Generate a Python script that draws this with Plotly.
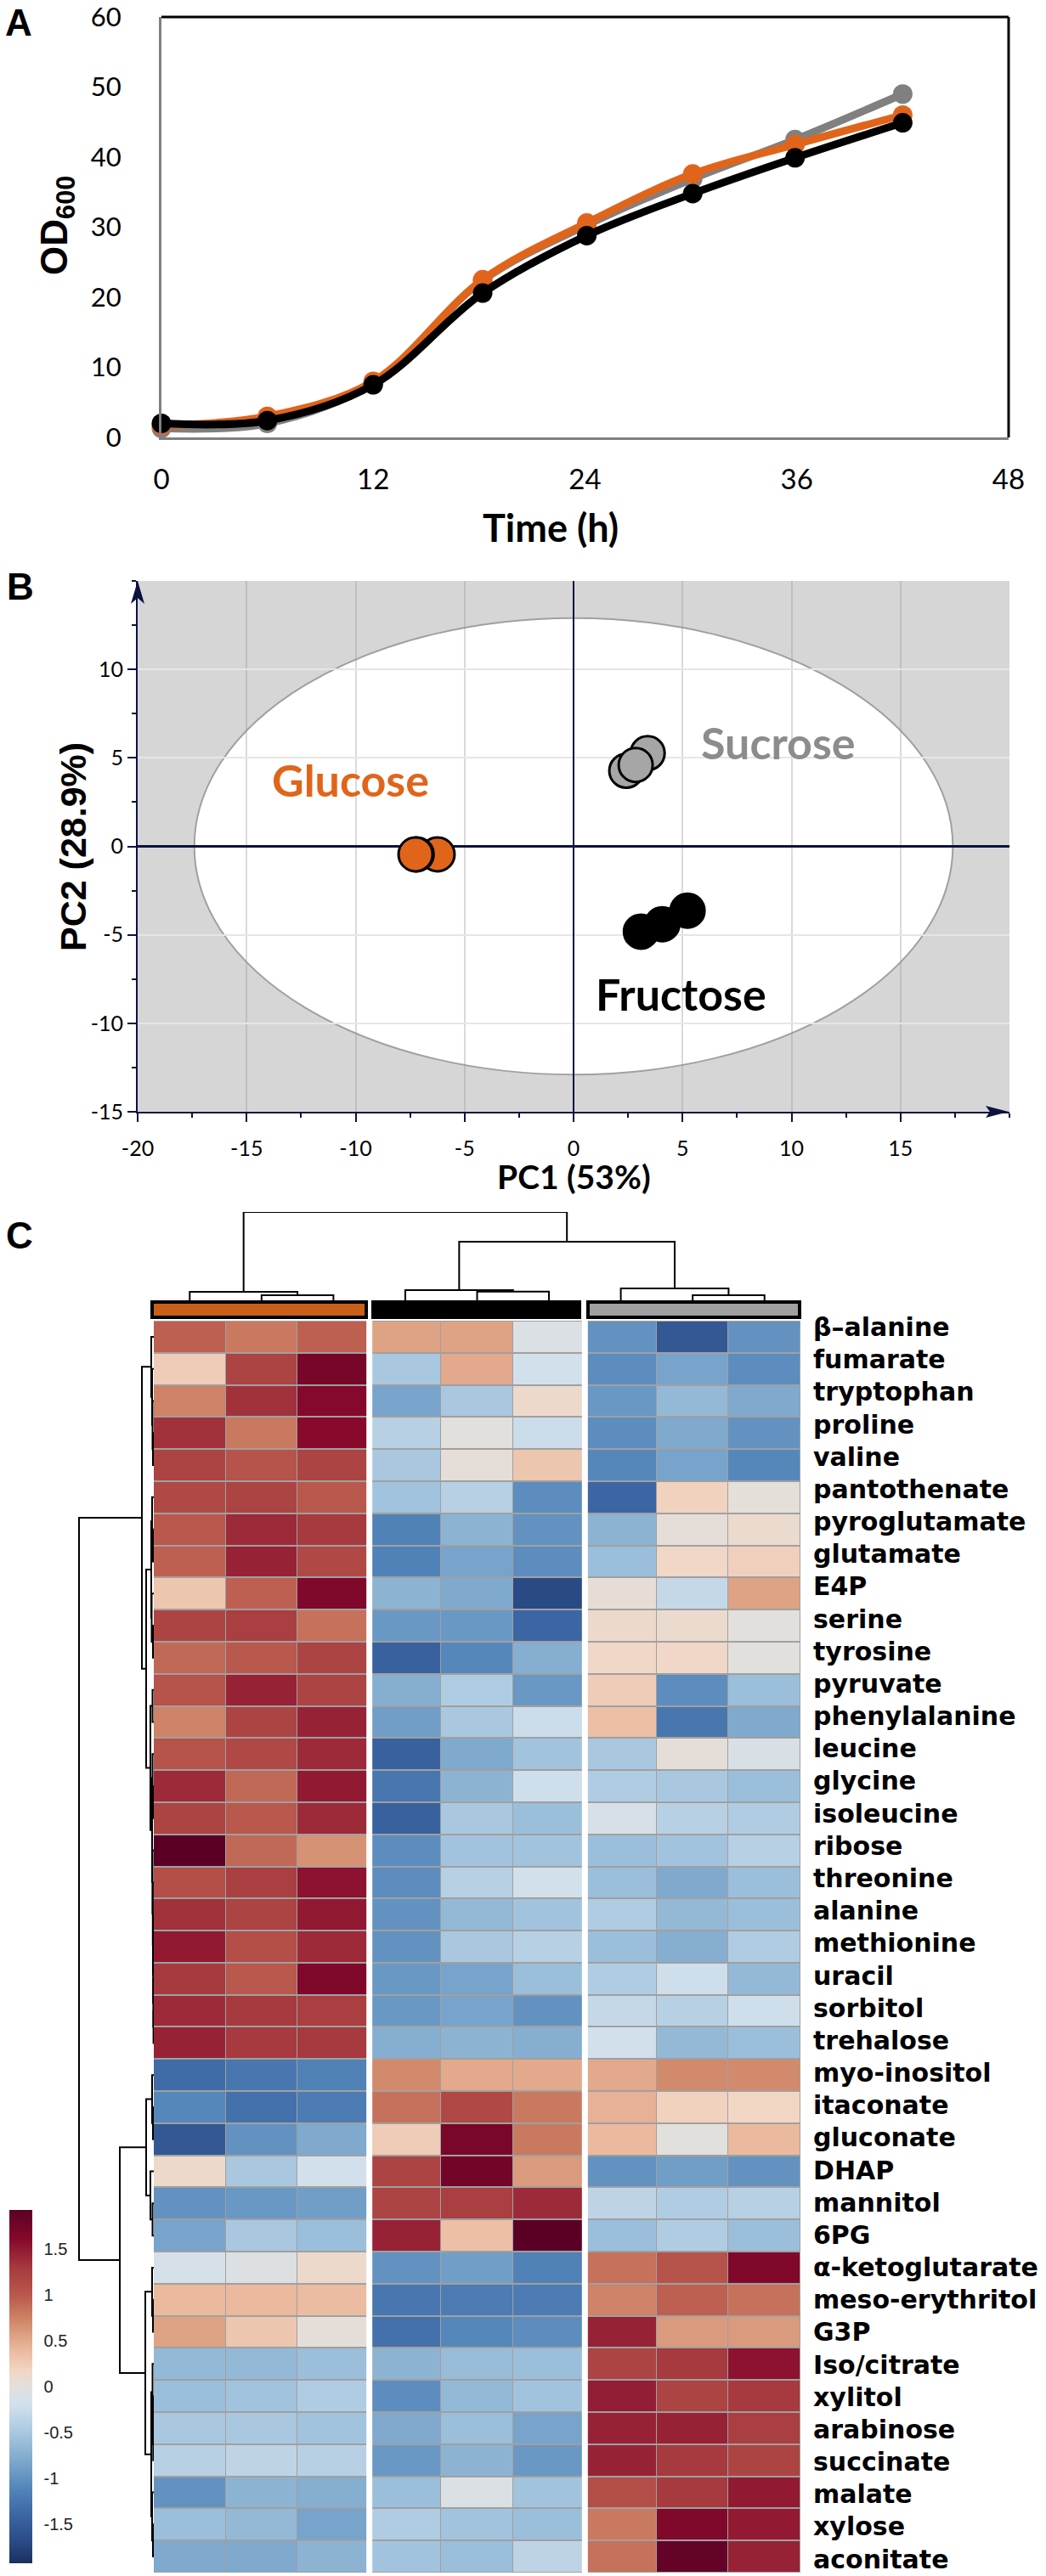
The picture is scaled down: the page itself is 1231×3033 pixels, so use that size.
import plotly.graph_objects as go

W, H = 1231, 3033
FONT = "Lato"
ARIAL = "Liberation Sans"
ORANGE, GREY = "#e0651b", "#808080"
NAVY = "#0c1240"

# panel A, growth curves
TIME = [0, 6, 12, 18.2, 24.1, 30.1, 35.9, 42]
OD_SUCROSE = [1.3, 2.0, 7.8, 22.4, 30.3, 36.9, 42.5, 49.0]
OD_GLUCOSE = [1.7, 3.0, 8.0, 22.5, 30.6, 37.6, 41.8, 46.0]
OD_FRUCTOSE = [2.0, 2.4, 7.5, 20.6, 28.8, 34.8, 39.9, 44.9]

# panel B, PCA scores
PC1_GLUCOSE = [-6.24, -7.2, -7.25]
PC2_GLUCOSE = [-0.45, -0.45, -0.45]
PC1_SUCROSE = [3.4, 2.42, 2.85]
PC2_SUCROSE = [5.27, 4.27, 4.6]
PC1_FRUCTOSE = [5.23, 4.07, 3.09]
PC2_FRUCTOSE = [-3.63, -4.4, -4.82]
ELLIPSE_X, ELLIPSE_Y = 17.4, 12.9

# panel C, heatmap
METABOLITES = ["β–alanine", "fumarate", "tryptophan", "proline", "valine", "pantothenate",
               "pyroglutamate", "glutamate", "E4P", "serine", "tyrosine", "pyruvate",
               "phenylalanine", "leucine", "glycine", "isoleucine", "ribose", "threonine",
               "alanine", "methionine", "uracil", "sorbitol", "trehalose", "myo-inositol",
               "itaconate", "gluconate", "DHAP", "mannitol", "6PG", "α-ketoglutarate",
               "meso-erythritol", "G3P", "Iso/citrate", "xylitol", "arabinose", "succinate",
               "malate", "xylose", "aconitate"]
Z_GLUCOSE = [[.95, .8, .95], [.25, 1.2, 1.72], [.75, 1.35, 1.62], [1.35, .8, 1.6], [1.2, 1.05, 1.2],
             [1.15, 1.2, 1.0], [1.0, 1.4, 1.3], [.95, 1.45, 1.15], [.3, .95, 1.65], [1.2, 1.25, .85],
             [.9, 1.0, 1.2], [1.05, 1.45, 1.2], [.75, 1.2, 1.45], [1.05, 1.15, 1.4], [1.4, .9, 1.5],
             [1.2, 1.0, 1.4], [1.93, .9, .65], [1.1, 1.25, 1.55], [1.35, 1.2, 1.5], [1.5, 1.1, 1.4],
             [1.3, 1.0, 1.65], [1.4, 1.3, 1.25], [1.45, 1.3, 1.3], [-1.35, -1.25, -1.15],
             [-1.1, -1.3, -1.2], [-1.55, -1.0, -.8], [.12, -.5, -.2], [-1.0, -.95, -.9],
             [-.85, -.5, -.6], [-.15, -.08, .12], [.4, .4, .38], [.55, .3, .03], [-.65, -.65, -.6],
             [-.6, -.55, -.45], [-.5, -.5, -.55], [-.4, -.35, -.4], [-1.0, -.7, -.75],
             [-.6, -.65, -.85], [-.8, -.8, -.7]]
Z_FRUCTOSE = [[.55, .55, -.1], [-.5, .5, -.2], [-.85, -.5, .12], [-.4, 0, -.25], [-.5, .03, .3],
              [-.55, -.4, -1.05], [-1.15, -.7, -1.0], [-1.15, -.85, -1.05], [-.7, -.8, -1.7],
              [-.95, -.95, -1.4], [-1.45, -1.1, -.75], [-.75, -.45, -.95], [-.9, -.5, -.25],
              [-1.45, -.8, -.55], [-1.25, -.7, -.22], [-1.45, -.5, -.6], [-1.05, -.55, -.55],
              [-1.05, -.4, -.2], [-1.0, -.65, -.55], [-1.0, -.5, -.4], [-.95, -.85, -.6],
              [-.95, -.85, -1.0], [-.75, -.7, -.75], [.7, .5, .5], [.85, 1.15, .8], [.25, 1.7, .8],
              [1.2, 1.75, .6], [1.2, 1.25, 1.4], [1.45, .35, 1.93], [-1.0, -.9, -1.15],
              [-1.25, -1.2, -1.2], [-1.3, -1.1, -1.05], [-.7, -.62, -.6], [-1.05, -.65, -.55],
              [-.8, -.6, -.85], [-.95, -.7, -.95], [-.6, -.1, -.55], [-.45, -.55, -.6],
              [-.55, -.6, -.35]]
Z_SUCROSE = [[-1.0, -1.55, -1.0], [-1.05, -.85, -1.05], [-.95, -.65, -.8], [-1.05, -.8, -1.0],
             [-1.1, -.85, -1.1], [-1.4, .2, .02], [-.7, .03, .1], [-.6, .15, .22], [.05, -.3, .55],
             [.12, .1, 0], [.15, .15, 0], [.25, -1.05, -.6], [.35, -1.25, -.8], [-.5, .03, -.12],
             [-.45, -.5, -.6], [-.15, -.4, -.45], [-.6, -.55, -.4], [-.6, -.8, -.6], [-.45, -.65, -.6],
             [-.6, -.75, -.45], [-.45, -.22, -.65], [-.3, -.4, -.22], [-.2, -.65, -.6], [.5, .7, .7],
             [.45, .2, .17], [.4, 0, .4], [-1.0, -.9, -1.0], [-.35, -.45, -.4], [-.6, -.45, -.6],
             [.85, 1.05, 1.65], [.75, .95, .85], [1.45, .6, .6], [1.2, 1.3, 1.55], [1.48, 1.2, 1.3],
             [1.45, 1.45, 1.25], [1.45, 1.3, 1.2], [1.1, 1.3, 1.5], [.8, 1.65, 1.5], [.85, 1.85, 1.45]]
Z_MIN, Z_MAX = -1.93, 1.93
COLOR_VALUES = [-1.93, -1.7, -1.4, -1.1, -.8, -.5, -.2, 0, .17, .4, .7, 1.0, 1.3, 1.6, 1.93]
COLORS = ["#1c2f5e", "#2a4a85", "#3b66a3", "#5587bb", "#7fa9cd", "#a9c8e0", "#d2e0ec", "#e2e0dc",
          "#f2d6c4", "#eab99e", "#d28a6c", "#b9584c", "#a63a3f", "#870a2c", "#5a0025"]
CBAR_TICKS = [1.5, 1, 0.5, 0, -0.5, -1, -1.5]
# dendrograms as [height, left, right], a leaf is a column or row number
COL_TREE = [104, [10, 0, [6, 1, 2]], [69, [12, 3, [10.3, 4, 5]], [14, 6, [6, 7, 8]]]]
ROW_TREE = [88,
            [14, [3, 0, [2, 1, [1.5, 2, [1, 3, 4]]]],
             [9, [3, [2, 5, [1, 6, 7]], [2.5, 8, [1, 9, 10]]],
              [4, [1.5, 11, 12],
               [2, [1.5, 13, [1, 14, 15]],
                [1.5, 16, [1.2, 17, [1, 18, [.8, 19, [.6, 20, [.4, 21, 22]]]]]]]]]],
            [40, [9, [2, 23, [1, 24, 25]], [4, 26, [1.5, 27, 28]]],
             [10, [2, 29, [1, 30, 31]],
              [3, [1.5, 32, [1, 33, [.7, 34, 35]]], [2, 36, [1, 37, 38]]]]]]


def dx(a, b):
    return [a / W, b / W]


def dy(top, bottom):
    return [1 - bottom / H, 1 - top / H]


def walk(node, xs, ys):
    # returns position of the node, appends its U shaped link
    if not isinstance(node, list):
        return node, 0
    h, left, right = node
    p0, h0 = walk(left, xs, ys)
    p1, h1 = walk(right, xs, ys)
    xs += [p0, p0, p1, p1, None]
    ys += [h0, h, h, h1, None]
    return (p0 + p1) / 2, h


def label(text, x, y, size, color="black", angle=0, family=FONT):
    fig.add_annotation(text=text, x=x / W, y=1 - y / H, xref="paper", yref="paper", showarrow=False,
                       xanchor="center", yanchor="middle", textangle=angle,
                       font=dict(family=family, size=size, color=color, weight=700))


def arrow(points):
    path = "M " + " L ".join(f"{x / W} {1 - y / H}" for x, y in points) + " Z"
    fig.add_shape(type="path", xref="paper", yref="paper", path=path, fillcolor=NAVY, line=dict(width=0))


fig = go.Figure()

# A
for name, vals, col in [("Sucrose", OD_SUCROSE, GREY), ("Glucose", OD_GLUCOSE, ORANGE), ("Fructose", OD_FRUCTOSE, "black")]:
    fig.add_trace(go.Scatter(x=TIME, y=vals, name=name, mode="lines+markers", cliponaxis=False,
                             line=dict(color=col, width=9, shape="spline", smoothing=1),
                             marker=dict(color=col, size=23), xaxis="x", yaxis="y"))

# B
for name, px, py, col in [("Glucose", PC1_GLUCOSE, PC2_GLUCOSE, ORANGE), ("Sucrose", PC1_SUCROSE, PC2_SUCROSE, "#a6a6a6"),
                          ("Fructose", PC1_FRUCTOSE, PC2_FRUCTOSE, "black")]:
    fig.add_trace(go.Scatter(x=px, y=py, name=name, mode="markers", xaxis="x2", yaxis="y2",
                             marker=dict(color=col, size=40, line=dict(color="black", width=3))))

# C
z = [g + f + s for g, f, s in zip(Z_GLUCOSE, Z_FRUCTOSE, Z_SUCROSE)]
fig.add_trace(go.Heatmap(z=z, x=list(range(9)), y=list(range(len(METABOLITES))), coloraxis="coloraxis",
                         xgap=1, ygap=2, xaxis="x3", yaxis="y3"))

xs, ys = [], []
walk(COL_TREE, xs, ys)
fig.add_trace(go.Scatter(x=xs, y=ys, mode="lines", line=dict(color="black", width=2), xaxis="x3", yaxis="y4"))
xs, ys = [], []
walk(ROW_TREE, xs, ys)
fig.add_trace(go.Scatter(x=ys, y=xs, mode="lines", line=dict(color="black", width=2), xaxis="x4", yaxis="y3"))

# the row names sit a little off the cells in the figure, higher at the top, lower at the bottom
label_rows = [i - 0.3 + i * 0.01 for i in range(len(METABOLITES))]

hidden = dict(visible=False, fixedrange=True)
fig.update_layout(
    width=W, height=H, margin=dict(l=0, r=0, t=0, b=0, autoexpand=False), showlegend=False, autosize=False,
    paper_bgcolor="white", plot_bgcolor="white", font=dict(family=FONT, color="black"),
    xaxis=dict(domain=dx(190, 1187), range=[0, 48], tickvals=[0, 12, 24, 36, 48], showgrid=False, zeroline=False,
               ticks="outside", ticklen=0, ticklabelstandoff=18, tickfont=dict(size=33),
               showline=True, linecolor=GREY, linewidth=3),
    yaxis=dict(domain=dy(20, 515), range=[0, 60], tickvals=[0, 10, 20, 30, 40, 50, 60], showgrid=False, zeroline=False,
               ticks="outside", ticklen=0, ticklabelstandoff=38, tickfont=dict(size=31),
               ticklabeloverflow="allow", showline=True, linecolor=GREY, linewidth=3),
    xaxis2=dict(domain=dx(162, 1188), range=[-20, 20], anchor="y2", tickvals=list(range(-20, 16, 5)),
                ticktext=[str(v) for v in range(-20, 16, 5)], ticks="outside", ticklen=10, tickcolor=NAVY,
                tickwidth=2, tickfont=dict(size=25), ticklabelstandoff=10, showgrid=True, gridwidth=2,
                gridcolor="rgba(150,150,150,0.35)", zeroline=True, zerolinecolor=NAVY, zerolinewidth=2,
                showline=True, linecolor=NAVY, linewidth=2,
                minor=dict(dtick=2.5, ticks="outside", ticklen=5, tickcolor=NAVY, showgrid=False)),
    yaxis2=dict(domain=dy(684, 1309), range=[-15, 15], anchor="x2", tickvals=list(range(-15, 11, 5)),
                ticktext=[str(v) for v in range(-15, 11, 5)], ticks="outside", ticklen=10, tickcolor=NAVY,
                tickwidth=2, tickfont=dict(size=25), showgrid=True, gridwidth=2, gridcolor="#e6e6e6",
                zeroline=True, zerolinecolor=NAVY, zerolinewidth=3, showline=True, linecolor=NAVY, linewidth=2,
                minor=dict(dtick=2.5, ticks="outside", ticklen=5, tickcolor=NAVY, showgrid=False)),
    xaxis3=dict(domain=dx(181, 942), range=[-0.5, 8.5], anchor="y3", showticklabels=False, showgrid=False, zeroline=False),
    yaxis3=dict(domain=dy(1555, 3029), range=[38.5, -0.5], anchor="x3", side="right", showgrid=False, zeroline=False,
                tickvals=label_rows, ticktext=METABOLITES, ticks="outside", ticklen=8,
                tickcolor="rgba(0,0,0,0)", tickfont=dict(family="DejaVu Sans", size=30, weight=700)),
    xaxis4=dict(domain=dx(0, 181), range=[181, 0], anchor="y3", **hidden),
    yaxis4=dict(domain=dy(1427, 1531), range=[0, 104], anchor="x3", **hidden),
    coloraxis=dict(cmin=Z_MIN, cmax=Z_MAX,
                   colorscale=[[(v - Z_MIN) / (Z_MAX - Z_MIN), c] for v, c in zip(COLOR_VALUES, COLORS)],
                   colorbar=dict(x=11 / W, xanchor="left", xpad=0, y=1 - 3018 / H, yanchor="bottom", ypad=0,
                                 len=416 / H, thickness=27, outlinewidth=0, tickvals=CBAR_TICKS,
                                 ticktext=[str(v) for v in CBAR_TICKS], ticks="outside", ticklen=10,
                                 tickcolor="rgba(0,0,0,0)", tickfont=dict(family=ARIAL, size=20, color="#222222"))),
)

# frame of A
fig.add_shape(type="line", xref="x domain", yref="y domain", x0=0, x1=1, y0=1, y1=1, line=dict(color="black", width=3))
fig.add_shape(type="line", xref="x domain", yref="y domain", x0=1, x1=1, y0=0, y1=1, line=dict(color="black", width=3))

# background and score ellipse of B
fig.add_shape(type="rect", xref="x2 domain", yref="y2 domain", x0=0, x1=1, y0=0, y1=1, layer="below",
              fillcolor="#d6d6d6", line=dict(width=0))
fig.add_shape(type="circle", xref="x2", yref="y2", x0=-ELLIPSE_X, x1=ELLIPSE_X, y0=-ELLIPSE_Y, y1=ELLIPSE_Y, layer="below",
              fillcolor="white", line=dict(color="#a0a0a0", width=2))
arrow([(154, 711), (162, 684), (170, 711), (162, 704)])
arrow([(1160, 1302), (1187, 1309), (1160, 1316), (1165, 1309)])

# cell borders and group bars of C
fig.add_shape(type="rect", xref="x3 domain", yref="y3 domain", x0=0, x1=1, y0=0, y1=1, layer="below",
              fillcolor="#a0a0a0", line=dict(width=0))
for x in [2.5, 5.5]:
    fig.add_shape(type="line", xref="x3", yref="y3 domain", x0=x, x1=x, y0=0, y1=1, line=dict(color="white", width=7))
for x0, x1, col in [(179, 431, "#c9601a"), (439, 682, "black"), (692, 941, "#a0a0a0")]:
    fig.add_shape(type="rect", xref="paper", yref="paper", x0=x0 / W, x1=x1 / W, y0=1 - 1551 / H, y1=1 - 1533 / H,
                  fillcolor=col, line=dict(color="black", width=4))

# panel letters and free text
label("A", 22, 27, 44, family=ARIAL)
label("B", 24, 690, 44, family=ARIAL)
label("C", 23, 1454, 44, family=ARIAL)
label("Time (h)", 648, 621, 45)
label("OD<sub>600</sub>", 67, 266, 44, angle=-90, family=ARIAL)
label("PC1 (53%)", 675, 1385, 39)
label("PC2 (28.9%)", 86, 997, 43, angle=-90, family=ARIAL)
label("Glucose", 412, 918, 52, ORANGE)
label("Sucrose", 916, 874, 52, "#8c8c8c")
label("Fructose", 802, 1170, 52)

fig.write_html("out.html", config={"displayModeBar": False}, post_script="document.body.style.margin='0'")
